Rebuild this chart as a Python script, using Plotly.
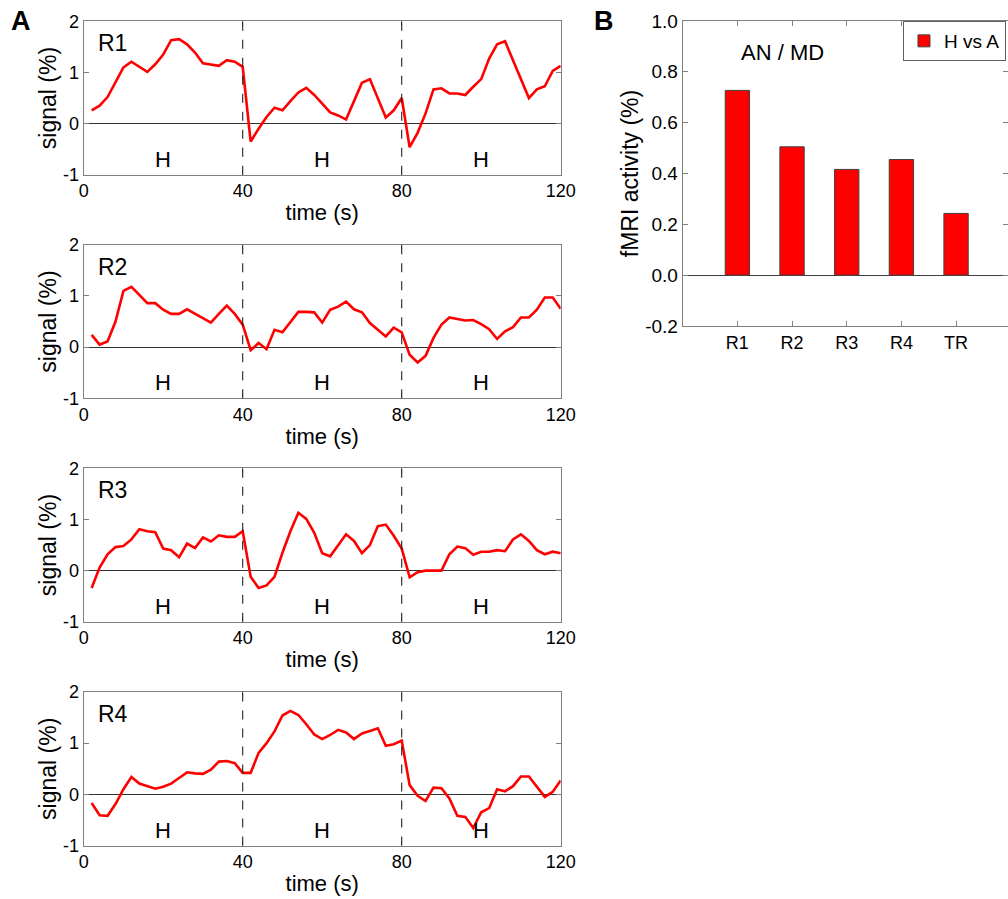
import plotly.graph_objects as go

# ---------------- data ----------------
time_s = list(range(2, 121, 2))

r1 = [0.26, 0.35, 0.52, 0.82, 1.10, 1.21, 1.11, 1.01, 1.16, 1.35,
      1.63, 1.65, 1.55, 1.39, 1.18, 1.16, 1.13, 1.24, 1.21, 1.11,
      -0.35, -0.10, 0.13, 0.31, 0.26, 0.44, 0.61, 0.70, 0.56, 0.39,
      0.22, 0.16, 0.08, 0.44, 0.80, 0.87, 0.49, 0.12, 0.26, 0.50,
      -0.46, -0.18, 0.20, 0.67, 0.69, 0.59, 0.59, 0.56, 0.72, 0.87,
      1.27, 1.55, 1.61, 1.24, 0.88, 0.50, 0.67, 0.73, 1.03, 1.13]

r2 = [0.24, 0.05, 0.11, 0.50, 1.10, 1.18, 1.02, 0.86, 0.86, 0.73,
      0.65, 0.65, 0.74, 0.65, 0.56, 0.48, 0.65, 0.81, 0.65, 0.44,
      -0.06, 0.08, -0.04, 0.34, 0.29, 0.50, 0.69, 0.69, 0.68, 0.48,
      0.73, 0.79, 0.89, 0.74, 0.68, 0.47, 0.34, 0.21, 0.38, 0.29,
      -0.15, -0.30, -0.17, 0.18, 0.44, 0.58, 0.55, 0.52, 0.53, 0.45,
      0.35, 0.16, 0.31, 0.39, 0.58, 0.58, 0.73, 0.97, 0.97, 0.75]

r3 = [-0.34, 0.06, 0.32, 0.46, 0.48, 0.61, 0.81, 0.77, 0.75, 0.43,
      0.40, 0.26, 0.53, 0.44, 0.65, 0.57, 0.69, 0.66, 0.66, 0.77,
      -0.12, -0.34, -0.29, -0.12, 0.35, 0.77, 1.13, 1.01, 0.74, 0.34,
      0.28, 0.50, 0.71, 0.58, 0.34, 0.50, 0.87, 0.90, 0.68, 0.43,
      -0.13, -0.03, 0.00, 0.00, 0.00, 0.32, 0.47, 0.44, 0.31, 0.37,
      0.37, 0.40, 0.38, 0.61, 0.71, 0.58, 0.40, 0.32, 0.37, 0.34]

r4 = [-0.17, -0.41, -0.42, -0.19, 0.10, 0.34, 0.21, 0.16, 0.11, 0.15,
      0.21, 0.32, 0.43, 0.41, 0.40, 0.48, 0.64, 0.65, 0.61, 0.42,
      0.42, 0.81, 1.00, 1.23, 1.54, 1.63, 1.55, 1.37, 1.17, 1.08,
      1.16, 1.26, 1.21, 1.08, 1.19, 1.24, 1.29, 0.95, 0.98, 1.05,
      0.18, -0.03, -0.13, 0.13, 0.12, -0.08, -0.42, -0.44, -0.66, -0.35,
      -0.27, 0.10, 0.06, 0.16, 0.35, 0.35, 0.15, -0.05, 0.05, 0.27]

region_names = ["R1", "R2", "R3", "R4"]
region_series = [r1, r2, r3, r4]
block_boundaries = [40, 80]
block_centers = [20, 60, 100]
block_label = "H"
x_ticks = [0, 40, 80, 120]
y_ticks = [-1, 0, 1, 2]
y_ticktext = ["-1", "0", "1", "2"]

bar_labels = ["R1", "R2", "R3", "R4", "TR"]
bar_values = [0.727, 0.505, 0.416, 0.455, 0.243]
bar_series_name = "H vs A"
bar_y_ticks = [-0.2, 0.0, 0.2, 0.4, 0.6, 0.8, 1.0]
bar_y_ticktext = ["-0.2", "0.0", "0.2", "0.4", "0.6", "0.8", "1.0"]

# ---------------- layout helpers ----------------
W, H = 1008, 899
FONT = "Liberation Sans, Arial, Helvetica, sans-serif"
RED = "#ff0000"
FRAME = "#808080"

x_dom = [83.7 / W, 560.7 / W]
panel_tops = [21.3, 244.8, 468.3, 692.0]
panel_h = 153.5

fig = go.Figure()
layout = dict(
    width=W, height=H, autosize=False,
    margin=dict(l=0, r=0, t=0, b=0, pad=0),
    paper_bgcolor="white", plot_bgcolor="white",
    font=dict(family=FONT, color="black", size=18),
    showlegend=True,
)
shapes = []
annotations = []

for i, (name, ser) in enumerate(zip(region_names, region_series)):
    k = i + 1
    xa = "x" if k == 1 else f"x{k}"
    ya = "y" if k == 1 else f"y{k}"
    top = panel_tops[i]
    ydom = [1 - (top + panel_h) / H, 1 - top / H]
    fig.add_trace(go.Scatter(
        x=time_s, y=ser, mode="lines", xaxis=xa, yaxis=ya,
        line=dict(color=RED, width=2.6), showlegend=False, name=name))
    layout[f"xaxis{'' if k == 1 else k}"] = dict(
        domain=x_dom, anchor=ya, range=[0, 120], tickvals=x_ticks,
        showline=True, linecolor=FRAME, linewidth=1, mirror="ticks",
        ticks="inside", ticklen=5, tickcolor=FRAME, showgrid=False,
        zeroline=False, tickfont=dict(size=18), automargin=False,
        title=dict(text="time (s)", font=dict(size=22), standoff=4),
    )
    layout[f"yaxis{'' if k == 1 else k}"] = dict(
        domain=ydom, anchor=xa, range=[-1, 2],
        tickvals=y_ticks, ticktext=y_ticktext,
        showline=True, linecolor=FRAME, linewidth=1, mirror="ticks",
        ticks="inside", ticklen=5, tickcolor=FRAME, showgrid=False,
        zeroline=True, zerolinecolor="#333333", zerolinewidth=1.3,
        tickfont=dict(size=18), automargin=False,
        title=dict(text="signal (%)", font=dict(size=23), standoff=0),
    )
    for b in block_boundaries:
        shapes.append(dict(type="line", xref=xa, yref=f"{ya} domain",
                           x0=b, x1=b, y0=0, y1=1,
                           line=dict(color="#222222", width=1.1, dash="dash")))
    for c in block_centers:
        annotations.append(dict(x=c, y=-0.7, xref=xa, yref=ya, text=block_label,
                                showarrow=False, font=dict(size=22)))
    annotations.append(dict(x=3, y=1.57, xref=xa, yref=ya, text=name,
                            xanchor="left", yanchor="middle",
                            showarrow=False, font=dict(size=23)))

# ---------------- bar chart ----------------
fig.add_trace(go.Bar(
    x=bar_labels, y=bar_values, xaxis="x5", yaxis="y5", name=bar_series_name,
    width=0.445, marker=dict(color=RED, line=dict(color="#404040", width=1)),
    showlegend=True))

layout["xaxis5"] = dict(
    domain=[682.7 / W, 1.0], anchor="y5", range=[-1, 4.95],
    showline=True, linecolor=FRAME, linewidth=1, mirror="ticks",
    ticks="inside", ticklen=5, tickcolor=FRAME, showgrid=False,
    zeroline=False, tickfont=dict(size=18), automargin=False,
)
layout["yaxis5"] = dict(
    domain=[1 - 326 / H, 1 - 21 / H], anchor="x5", range=[-0.2, 1.0],
    tickvals=bar_y_ticks, ticktext=bar_y_ticktext,
    showline=True, linecolor=FRAME, linewidth=1, mirror="ticks",
    ticks="inside", ticklen=5, tickcolor=FRAME, showgrid=False,
    zeroline=True, zerolinecolor="#404040", zerolinewidth=1.2,
    tickfont=dict(size=19), automargin=False,
    title=dict(text="fMRI activity (%)", font=dict(size=23), standoff=0),
)
layout["legend"] = dict(
    x=0.998, xanchor="right", y=1 - 21 / H, yanchor="top",
    bordercolor="#606060", borderwidth=1, bgcolor="white",
    font=dict(size=19), itemwidth=30, tracegroupgap=0,
)

annotations.append(dict(x=782.7 / W, y=1 - 52.7 / H, xref="paper", yref="paper",
                        xanchor="center", yanchor="middle",
                        text="AN / MD", showarrow=False, font=dict(size=22)))
annotations.append(dict(x=21 / W, y=1 - 21 / H, xref="paper", yref="paper",
                        xanchor="center", yanchor="middle",
                        text="<b>A</b>", showarrow=False, font=dict(size=27)))
annotations.append(dict(x=604 / W, y=1 - 21 / H, xref="paper", yref="paper",
                        xanchor="center", yanchor="middle",
                        text="<b>B</b>", showarrow=False, font=dict(size=27)))

layout["shapes"] = shapes
layout["annotations"] = annotations
fig.update_layout(**layout)

fig.write_html(
    "out.html",
    config={"responsive": False, "displayModeBar": False},
    post_script="document.body.style.margin='0';document.body.style.padding='0';"
                "document.body.style.overflow='hidden';",
)
